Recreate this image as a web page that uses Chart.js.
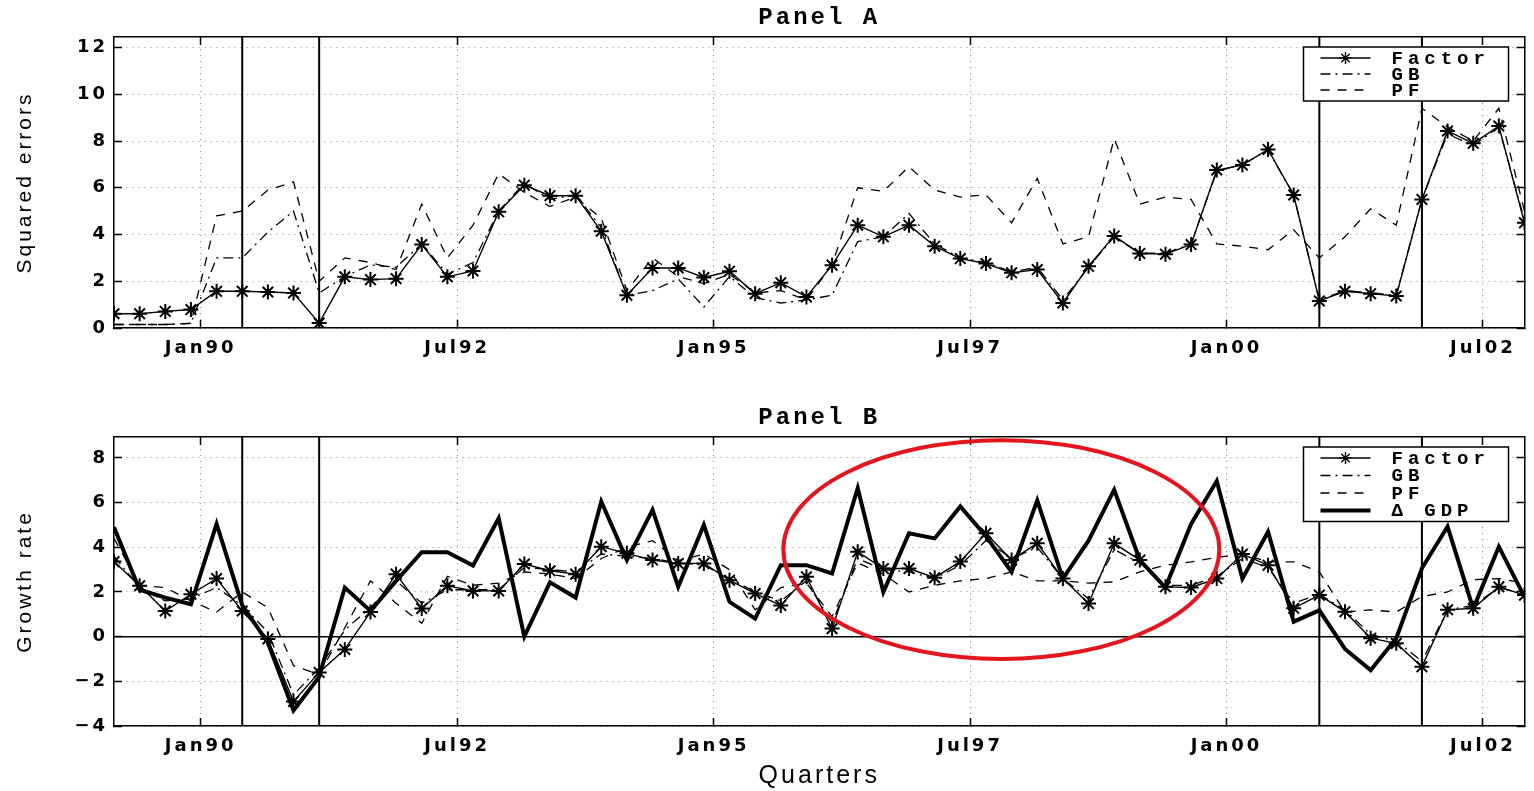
<!DOCTYPE html>
<html>
<head>
<meta charset="utf-8">
<title>Panel A / Panel B</title>
<script src="https://cdn.jsdelivr.net/npm/chart.js@4.4.1/dist/chart.umd.min.js"></script>
<style>
    body { margin: 0; background: #fff; }
    canvas { position: absolute; left: 0; }
    #panelA { top: 0; }
    #panelB { top: 400px; }
</style>
</head>
<body>
<canvas id="panelA" width="1534" height="390"></canvas>
<canvas id="panelB" width="1534" height="391"></canvas>
<script>
// 56 quarters, x = quarter index (0 = first quarter of 1989)
const tickQuarters = [3.38, 13.38, 23.38, 33.38, 43.38, 53.38];
const tickLabels = ['Jan90', 'Jul92', 'Jan95', 'Jul97', 'Jan00', 'Jul02'];
const recessionQuarters = [5, 8, 47, 51];
const lastQuarter = 55;

// Panel A - squared errors
const factorErr = [0.61, 0.61, 0.71, 0.79, 1.57, 1.57, 1.54, 1.5, 0.21, 2.19,
    2.07, 2.11, 3.57, 2.19, 2.44, 4.97, 6.11, 5.66, 5.66, 4.14,
    1.4, 2.57, 2.57, 2.16, 2.43, 1.47, 1.94, 1.33, 2.69, 4.4,
    3.9, 4.4, 3.5, 2.97, 2.76, 2.36, 2.5, 1.07, 2.64, 3.94,
    3.19, 3.16, 3.57, 6.76, 6.97, 7.64, 5.69, 1.16, 1.57, 1.47,
    1.37, 5.5, 8.43, 7.9, 8.64, 4.5];
const gbErr = [0.15, 0.15, 0.15, 0.2, 3.0, 3.0, 4.1, 5.0, 1.5, 2.2,
    2.7, 2.6, 3.6, 2.3, 2.8, 5.0, 6.2, 5.5, 5.7, 4.3,
    1.4, 1.6, 2.1, 0.9, 2.2, 1.3, 1.07, 1.2, 1.4, 3.7,
    3.9, 4.9, 3.6, 3.0, 2.8, 2.4, 2.6, 1.2, 2.6, 3.9,
    3.2, 3.2, 3.6, 6.7, 7.0, 7.6, 5.7, 1.2, 1.6, 1.5,
    1.4, 5.5, 8.3, 7.8, 8.6, 4.6];
const pfErr = [0.15, 0.15, 0.15, 0.2, 4.8, 5.0, 5.9, 6.25, 2.0, 3.0,
    2.8, 2.5, 5.3, 3.0, 4.4, 6.6, 5.8, 5.2, 5.6, 4.7,
    1.6, 3.0, 2.2, 1.9, 2.3, 1.5, 1.6, 1.2, 2.7, 6.0,
    5.85, 6.9, 5.9, 5.6, 5.7, 4.5, 6.4, 3.6, 3.9, 8.1,
    5.3, 5.6, 5.5, 3.6, 3.5, 3.35, 4.2, 3.0, 3.9, 5.1,
    4.4, 9.4, 8.6, 8.0, 9.4, 5.0];

// Panel B - growth rate
const factorGrowth = [3.36, 2.28, 1.15, 1.9, 2.6, 1.15, -0.1, -2.9, -1.6, -0.57,
    1.1, 2.8, 1.26, 2.28, 2.05, 2.05, 3.25, 2.95, 2.8, 4.03,
    3.73, 3.43, 3.28, 3.28, 2.53, 1.93, 1.4, 2.68, 0.36, 3.8,
    3.05, 3.05, 2.64, 3.36, 4.63, 3.43, 4.18, 2.6, 1.48, 4.18,
    3.43, 2.23, 2.2, 2.6, 3.7, 3.2, 1.27, 1.86, 1.12, -0.07,
    -0.3, -1.35, 1.2, 1.27, 2.23, 1.86];
const gbGrowth = [3.6, 2.2, 1.6, 1.7, 2.2, 1.4, 0.2, -2.6, -1.4, 0.3,
    1.3, 2.5, 1.5, 2.1, 2.1, 2.1, 3.1, 3.0, 2.9, 3.7,
    3.6, 3.5, 3.3, 3.2, 2.6, 2.0, 1.6, 2.5, 0.6, 3.5,
    3.0, 2.9, 2.6, 3.2, 4.3, 3.5, 4.0, 2.6, 1.7, 3.9,
    3.3, 2.3, 2.3, 2.7, 3.5, 3.1, 1.5, 1.9, 1.2, 0.1,
    -0.2, -1.1, 1.2, 1.4, 2.2, 1.9];
const pfGrowth = [4.4, 2.3, 2.2, 1.6, 1.1, 2.0, 1.3, -1.3, -1.7, 0.4,
    2.5, 1.5, 0.6, 2.7, 2.3, 2.4, 2.9, 2.8, 2.6, 3.5,
    4.0, 4.3, 3.4, 3.7, 3.0, 1.2, 2.2, 2.4, 0.9, 3.3,
    2.8, 2.0, 2.3, 2.5, 2.6, 2.9, 2.5, 2.5, 2.4, 2.45,
    2.9, 3.2, 3.35, 3.55, 3.7, 3.35, 3.35, 2.9, 1.1, 1.2,
    1.1, 1.8, 2.0, 2.55, 2.6, 2.4];
const gdpGrowth = [4.9, 2.1, 1.75, 1.45, 5.05, 1.4, -0.27, -3.3, -1.8, 2.2,
    1.15, 2.5, 3.78, 3.78, 3.18, 5.3, 0.0, 2.43, 1.75, 6.05,
    3.43, 5.68, 2.23, 5.0, 1.56, 0.81, 3.2, 3.2, 2.83, 6.65,
    2.0, 4.63, 4.4, 5.83, 4.5, 2.9, 6.1, 2.6, 4.3, 6.58,
    3.43, 2.2, 5.05, 6.97, 2.6, 4.7, 0.67, 1.18, -0.55, -1.5,
    -0.07, 3.06, 4.93, 1.26, 4.03, 1.78];

// red ring drawn over panel B (centre and half sizes in axis units)
const ringCenter = [34.6, 3.9];
const ringHalfSize = [8.5, 4.9];

Chart.defaults.font.family = '"Liberation Sans", Arial, sans-serif';
Chart.defaults.color = '#000';

function toPoints(values) {
    return values.map((v, i) => ({ x: i, y: v }));
}

function factorSet(values) {
    return {
        label: 'Factor',
        data: toPoints(values),
        borderColor: '#000',
        borderWidth: 1.4,
        pointStyle: 'star',
        pointRadius: 7.5,
        pointBorderWidth: 2,
        pointBorderColor: '#000',
        pointBackgroundColor: '#000'
    };
}

function dashedSet(label, values, dash, width) {
    return {
        label: label,
        data: toPoints(values),
        borderColor: '#000',
        borderWidth: width,
        borderDash: dash,
        pointRadius: 0
    };
}

// plain reference lines (no legend entry)
function refLine(points, width) {
    return { data: points, borderColor: '#000', borderWidth: width, pointRadius: 0 };
}

function recessionSets(lo, hi) {
    return recessionQuarters.map(q => refLine([{ x: q, y: lo }, { x: q, y: hi }], 2));
}

function buildScales(yMin, yMax, yTitle, showQuarters, bottomHeight) {
    const grid = { color: 'rgba(0,0,0,0.45)', lineWidth: 1, tickLength: -8, tickColor: '#000', tickWidth: 1.5 };
    const border = { color: '#000', width: 1.5, dash: [1, 5] };
    const setTicks = (scale) => { scale.ticks = tickQuarters.map(v => ({ value: v })); };
    const tickFont = { family: '"DejaVu Sans"', weight: 'bold', size: 18 };

    return {
        x: {
            type: 'linear', position: 'bottom', min: 0, max: lastQuarter,
            afterBuildTicks: setTicks,
            afterFit: (s) => { s.height = bottomHeight; },
            grid: grid, border: border,
            ticks: { autoSkip: false, maxRotation: 0, padding: 18, font: tickFont, callback: (v, i) => tickLabels[i] },
            title: { display: showQuarters, text: 'Quarters', font: { size: 25 }, padding: { top: 0, bottom: 0 } }
        },
        x2: {
            type: 'linear', position: 'top', min: 0, max: lastQuarter,
            afterBuildTicks: setTicks,
            afterFit: (s) => { s.height = 0; },
            grid: { ...grid, drawOnChartArea: false }, border: border,
            ticks: { display: false }
        },
        y: {
            type: 'linear', position: 'left', min: yMin, max: yMax,
            afterFit: (s) => { s.width = 114; },
            grid: grid, border: border,
            ticks: {
                stepSize: 2, includeBounds: false, padding: 14, font: tickFont,
                callback: (v) => v < 0 ? '\u2212' + Math.abs(v) : String(v)
            },
            title: { display: true, text: yTitle, font: { size: 21 }, padding: { top: 13 } }
        },
        y2: {
            type: 'linear', position: 'right', min: yMin, max: yMax,
            afterFit: (s) => { s.width = 7; },
            grid: { ...grid, drawOnChartArea: false }, border: border,
            ticks: { display: false, stepSize: 2, includeBounds: false }
        }
    };
}

// wider glyph spacing, the original figure is stretched horizontally
const spacing = {
    id: 'spacing',
    beforeDraw(chart) {
        chart.ctx.letterSpacing = '3px';
    }
};

const ring = {
    id: 'ring',
    afterDraw(chart, args, opts) {
        if (!opts.center) return;
        const { ctx, scales } = chart;
        const cx = scales.x.getPixelForValue(opts.center[0]);
        const cy = scales.y.getPixelForValue(opts.center[1]);
        const rx = Math.abs(scales.x.getPixelForValue(opts.center[0] + opts.half[0]) - cx);
        const ry = Math.abs(scales.y.getPixelForValue(opts.center[1] + opts.half[1]) - cy);
        ctx.save();
        ctx.strokeStyle = '#e3161e';
        ctx.lineWidth = 4;
        ctx.setLineDash([]);
        ctx.beginPath();
        ctx.ellipse(cx, cy, rx, ry, 0, 0, Math.PI * 2);
        ctx.stroke();
        ctx.restore();
    }
};

const legendBox = {
    id: 'legendBox',
    afterDraw(chart, args, opts) {
        const { ctx, chartArea } = chart;
        const items = chart.data.datasets.filter(d => d.label);
        const width = 205;
        const right = chartArea.right - 16;
        const left = right - width;
        const top = chartArea.top + 10;
        const height = 22 + (items.length - 1) * opts.rowHeight;

        ctx.save();
        ctx.fillStyle = '#fff';
        ctx.fillRect(left, top, width, height);
        ctx.strokeStyle = '#000';
        ctx.lineWidth = 1.5;
        ctx.setLineDash([]);
        ctx.strokeRect(left, top, width, height);

        items.forEach((d, i) => {
            const y = top + 11 + i * opts.rowHeight;
            const x0 = left + 17;
            const x1 = x0 + 50;
            ctx.lineWidth = d.borderWidth;
            ctx.setLineDash(d.borderDash || []);
            ctx.beginPath();
            ctx.moveTo(x0, y);
            ctx.lineTo(x1, y);
            ctx.stroke();
            ctx.setLineDash([]);
            if (d.pointStyle) {
                Chart.helpers.drawPoint(ctx, { pointStyle: d.pointStyle, radius: 6, borderWidth: 1.6 }, (x0 + x1) / 2, y);
            }
            ctx.letterSpacing = '5px';
            ctx.font = 'bold 19px "Liberation Mono", monospace';
            ctx.fillStyle = '#000';
            ctx.textBaseline = 'middle';
            ctx.textAlign = 'left';
            ctx.fillText(d.label, x1 + 21, y + 1);
        });
        ctx.restore();
    }
};

function panelOptions(title, scales, rowHeight, ringOpts) {
    return {
        responsive: false,
        animation: false,
        events: [],
        layout: { padding: 0 },
        scales: scales,
        plugins: {
            legend: { display: false },
            tooltip: { enabled: false },
            title: {
                display: true, text: title, color: '#000', fullSize: false,
                font: { family: '"Liberation Mono", monospace', size: 24, weight: 'bold' },
                padding: { top: 4, bottom: 4.2 }
            },
            ring: ringOpts,
            legendBox: { rowHeight: rowHeight }
        }
    };
}

const errMax = 12.45;
new Chart(document.getElementById('panelA'), {
    type: 'line',
    data: {
        datasets: [
            factorSet(factorErr),
            dashedSet('GB', gbErr, [10, 5, 2, 5], 1.3),
            dashedSet('PF', pfErr, [9, 8], 1.3),
            ...recessionSets(0, errMax)
        ]
    },
    options: panelOptions('Panel A', buildScales(0, errMax, 'Squared errors', false, 62), 16, {}),
    plugins: [spacing, legendBox]
});

const growthMin = -4;
const growthMax = 8.94;
new Chart(document.getElementById('panelB'), {
    type: 'line',
    data: {
        datasets: [
            factorSet(factorGrowth),
            dashedSet('GB', gbGrowth, [10, 5, 2, 5], 1.3),
            dashedSet('PF', pfGrowth, [9, 8], 1.3),
            dashedSet('\u0394 GDP', gdpGrowth, [], 4),
            ...recessionSets(growthMin, growthMax),
            refLine([{ x: 0, y: 0 }, { x: lastQuarter, y: 0 }], 1.5)
        ]
    },
    options: panelOptions('Panel B', buildScales(growthMin, growthMax, 'Growth rate', true, 65), 17.5,
        { center: ringCenter, half: ringHalfSize }),
    plugins: [spacing, ring, legendBox]
});
</script>
</body>
</html>
